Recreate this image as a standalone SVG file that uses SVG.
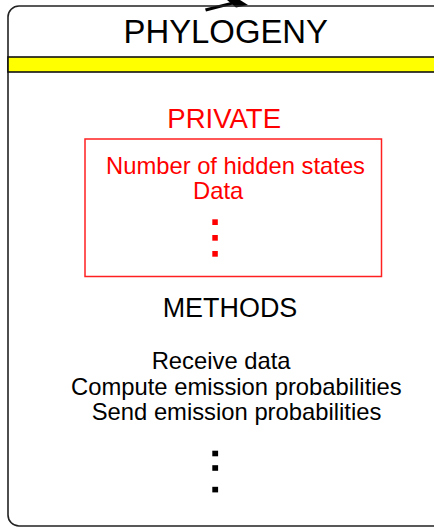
<svg xmlns="http://www.w3.org/2000/svg" width="434" height="527" viewBox="0 0 434 527">
<style>
.t{font-family:"Liberation Sans",Arial,sans-serif;}
.red{fill:#ff0000;}
.blk{fill:#000000;}
</style>
<rect width="434" height="527" fill="#ffffff"/>
<g id="connectors">
<polygon points="205,8.5 233,1.5 233,4.5 206,11.5" fill="#000"/>
<polygon points="227,0 240,0 248,5 236,7.5" fill="#000"/>
</g>
<g id="phylogeny">
<rect x="8" y="6" width="440" height="520" rx="11" ry="11" fill="none" stroke="#222" stroke-width="1.6"/>
<text class="t blk" x="123.5" y="42.5" font-size="33.5" textLength="204.5" lengthAdjust="spacingAndGlyphs">PHYLOGENY</text>
<rect x="8" y="57" width="440" height="15" fill="#ffff00" stroke="#111" stroke-width="1.6"/>
<text class="t red" x="167.3" y="128.3" font-size="26.8" textLength="113.7" lengthAdjust="spacingAndGlyphs">PRIVATE</text>
<g id="private">
<rect x="85" y="139" width="296.5" height="137.5" fill="none" stroke="#ff2020" stroke-width="1.5"/>
<text class="t red" x="106" y="174.3" font-size="23.8" textLength="259" lengthAdjust="spacingAndGlyphs">Number of hidden states</text>
<text class="t red" x="193" y="199.3" font-size="23.8">Data</text>
<rect x="212.3" y="219.3" width="5.5" height="5.7" fill="#ff0000"/>
<rect x="212.3" y="235" width="5.5" height="5.7" fill="#ff0000"/>
<rect x="212.3" y="251" width="5.5" height="5.7" fill="#ff0000"/>
</g>
<g id="methods">
<text class="t blk" x="162.7" y="317.3" font-size="26.8" textLength="134.6" lengthAdjust="spacingAndGlyphs">METHODS</text>
<text class="t blk" x="151.7" y="369.3" font-size="23.8">Receive data</text>
<text class="t blk" x="71" y="395" font-size="23.8">Compute emission probabilities</text>
<text class="t blk" x="91.7" y="420" font-size="23.8">Send emission probabilities</text>
<rect x="212.3" y="450.7" width="5.8" height="5.6" fill="#000"/>
<rect x="212.3" y="465.2" width="5.8" height="5.6" fill="#000"/>
<rect x="212.3" y="486.8" width="5.8" height="5.6" fill="#000"/>
</g>
</g>
</svg>
